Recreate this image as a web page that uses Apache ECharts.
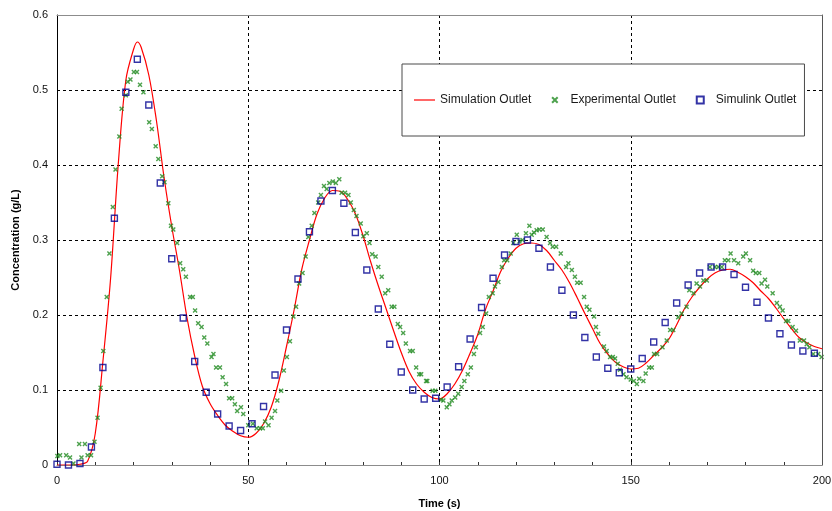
<!DOCTYPE html>
<html>
<head>
<meta charset="utf-8">
<script src="https://cdn.jsdelivr.net/npm/echarts@6/dist/echarts.min.js"></script>
<style>
html,body{margin:0;padding:0;background:#fff;}
#chart{width:832px;height:511px;}
</style>
</head>
<body>
<div id="chart"></div>
<script>
// ---- Data ----
const seriesNames = ['Simulation Outlet', 'Experimental Outlet', 'Simulink Outlet'];

const simTime = [0,2,4,6,8,10,12,14,16,18,20,21,22,24,26,28,30,32,34,36,38,40,42,44,46,48,50,52,54,56,58,60,62,64,66,68,70,72,74,76,78,80,82,84,86,88,90,92,94,96,98,100,102,104,106,108,110,112,114,116,118,120,122,124,126,128,130,132,134,136,138,140,142,144,146,148,150,152,154,156,158,160,162,164,166,168,170,172,174,176,178,180,182,184,186,188,190,192,194,196,198,200];
const simConc = [0,0,0,0.001,0.005,0.042,0.138,0.248,0.400,0.513,0.554,0.564,0.557,0.520,0.459,0.383,0.318,0.260,0.196,0.145,0.105,0.082,0.066,0.053,0.045,0.039,0.037,0.042,0.055,0.077,0.112,0.158,0.207,0.261,0.300,0.335,0.356,0.366,0.365,0.354,0.335,0.306,0.271,0.239,0.209,0.179,0.150,0.125,0.108,0.097,0.090,0.088,0.095,0.108,0.126,0.149,0.174,0.207,0.232,0.258,0.276,0.289,0.295,0.296,0.294,0.286,0.273,0.260,0.243,0.223,0.202,0.182,0.162,0.148,0.137,0.131,0.128,0.129,0.136,0.146,0.156,0.168,0.187,0.208,0.224,0.237,0.248,0.256,0.260,0.261,0.257,0.251,0.243,0.232,0.222,0.209,0.195,0.182,0.170,0.163,0.158,0.155];

const expTime = [0.1,0.8,2.4,3.4,4.3,5.8,6.4,7.3,8.0,8.9,9.8,10.6,11.4,12.1,13.0,13.7,14.6,15.3,16.3,16.9,18.0,18.5,19.2,20.1,20.9,21.7,22.6,24.1,24.8,25.8,26.5,27.5,28.1,29.1,29.8,30.4,31.4,
32.2,33.0,33.7,34.8,35.5,36.1,36.9,37.8,38.5,39.3,40.4,40.9,41.6,42.6,43.3,44.2,45.0,45.8,46.5,47.1,48.1,48.7,50.0,51.2,52.2,53.1,53.8,54.4,55.3,56.1,57.0,57.6,58.6,59.3,60.1,60.9,61.8,62.5,63.3,64.2,65.0,65.7,66.6,67.3,68.3,69.0,69.8,70.5,71.2,
72.1,72.9,73.8,74.4,75.3,76.2,76.8,77.6,78.3,79.4,80.1,81.0,81.7,82.4,83.3,84.0,84.9,85.8,86.6,87.5,88.2,89.1,89.7,90.5,91.2,92.3,93.0,93.9,94.7,95.2,96.5,96.8,98.2,98.9,100.4,101.0,101.9,102.6,103.2,104.1,104.9,105.8,106.5,107.4,108.2,109.0,109.5,110.6,111.3,112.2,112.9,
113.9,114.5,115.4,116.3,116.9,117.7,118.6,119.3,120.2,120.9,121.7,122.6,123.5,124.1,124.7,125.4,126.1,127.0,128.0,128.9,129.6,130.5,131.7,133.1,133.7,134.6,135.4,136.0,136.9,137.8,138.5,139.2,140.4,140.9,141.5,143.0,143.7,144.6,145.3,145.9,146.6,147.2,148.1,148.9,150.0,150.8,151.6,152.2,153.3,153.9,154.8,155.5,156.1,156.9,
158.3,159.4,160.3,161.1,162.4,163.3,164.6,165.3,166.4,167.2,168.1,169.0,169.9,170.7,172.0,172.9,173.8,174.6,175.5,176.1,177.0,178.1,179.4,180.1,181.2,182.0,182.7,183.6,184.2,185.1,185.7,187.1,188.2,189.0,189.7,190.6,191.2,192.3,193.2,194.2,195.3,196.0,196.7,197.7,199.0,199.9];
const expConc = [0.012,0.013,0.013,0.010,0.002,0.028,0.010,0.028,0.013,0.013,0.031,0.063,0.103,0.152,0.224,0.282,0.344,0.394,0.438,0.475,0.493,0.511,0.514,0.524,0.524,0.507,0.497,0.457,0.448,0.425,0.408,0.385,0.377,0.349,0.319,0.314,0.296,
0.269,0.261,0.251,0.224,0.224,0.206,0.189,0.184,0.170,0.162,0.144,0.148,0.130,0.130,0.117,0.108,0.089,0.089,0.081,0.072,0.077,0.068,0.053,0.055,0.049,0.049,0.049,0.058,0.053,0.063,0.072,0.086,0.099,0.126,0.144,0.165,0.198,0.211,0.242,0.256,0.278,0.304,0.319,0.336,0.350,0.360,0.372,0.368,0.376,
0.378,0.376,0.381,0.363,0.363,0.360,0.350,0.340,0.332,0.322,0.305,0.309,0.296,0.281,0.278,0.264,0.251,0.229,0.233,0.211,0.211,0.188,0.184,0.176,0.162,0.152,0.152,0.130,0.121,0.121,0.112,0.112,0.099,0.099,0.087,0.086,0.077,0.081,0.086,0.090,0.095,0.104,0.112,0.121,0.130,0.148,0.157,0.176,0.184,0.202,0.224,
0.229,0.238,0.244,0.264,0.273,0.273,0.282,0.296,0.307,0.298,0.300,0.309,0.319,0.307,0.310,0.313,0.314,0.314,0.304,0.296,0.291,0.291,0.282,0.264,0.269,0.260,0.251,0.243,0.243,0.224,0.211,0.207,0.198,0.184,0.175,0.158,0.152,0.144,0.144,0.142,0.135,0.127,0.121,0.117,0.114,0.112,0.108,0.115,0.112,0.122,0.130,0.130,0.148,0.148,
0.157,0.166,0.180,0.180,0.197,0.202,0.211,0.233,0.229,0.242,0.238,0.246,0.246,0.264,0.264,0.264,0.264,0.273,0.273,0.282,0.273,0.269,0.278,0.282,0.273,0.259,0.256,0.256,0.242,0.247,0.238,0.229,0.216,0.211,0.206,0.192,0.192,0.184,0.179,0.166,0.166,0.161,0.157,0.148,0.148,0.144];

const slkTime = [0,3,6,9,12,15,18,21,24,27,30,33,36,39,42,45,48,51,54,57,60,63,66,69,72,75,78,81,84,87,90,93,96,99,102,105,108,111,114,117,120,123,126,129,132,135,138,141,144,147,150,153,156,159,162,165,168,171,174,177,180,183,186,189,192,195,198];
const slkConc = [0.001,0,0.002,0.024,0.130,0.329,0.497,0.541,0.480,0.376,0.275,0.196,0.138,0.097,0.068,0.052,0.046,0.055,0.078,0.120,0.180,0.248,0.311,0.352,0.366,0.349,0.310,0.260,0.208,0.161,0.124,0.100,0.088,0.089,0.104,0.131,0.168,0.210,0.249,0.280,0.298,0.300,0.289,0.264,0.233,0.200,0.170,0.144,0.129,0.123,0.128,0.142,0.164,0.190,0.216,0.240,0.256,0.264,0.264,0.254,0.237,0.217,0.196,0.175,0.160,0.152,0.149];

const xTicks = {min: 0, max: 200, interval: 50};
const yTicks = {min: 0, max: 0.6, interval: 0.1};

// ---- Chart ----
const zip = (a, b) => a.map((t, i) => [t, b[i]]);
const FONT = "'Liberation Sans', Arial, sans-serif";
const chart = echarts.init(document.getElementById('chart'), null, {renderer: 'canvas'});

const option = {
  backgroundColor: '#ffffff',
  animation: false,
  textStyle: {fontFamily: FONT},
  grid: {left: 57, right: 10, top: 15, bottom: 46, containLabel: false, outerBoundsMode: 'none'},
  legend: {
    left: 402, top: 64,
    orient: 'horizontal',
    backgroundColor: '#ffffff',
    borderColor: '#4a4a4a', borderWidth: 1,
    padding: [30, 8, 30, 12],
    itemWidth: 21, itemHeight: 7, itemGap: 20,
    selectedMode: false,
    textStyle: {fontFamily: FONT, fontSize: 12, color: '#1a1a1a'},
    data: [
      {name: seriesNames[0], icon: 'path://M0,0L21,0L21,1.2L0,1.2Z', itemStyle: {color: '#ff0000'}},
      {name: seriesNames[1]},
      {name: seriesNames[2]}
    ]
  },
  xAxis: [{
    type: 'value', min: xTicks.min, max: xTicks.max, interval: xTicks.interval,
    name: 'Time (s)', nameLocation: 'middle', nameGap: 33,
    nameTextStyle: {fontFamily: FONT, fontSize: 11, fontWeight: 'bold', color: '#000'},
    axisLine: {show: true, onZero: false, lineStyle: {color: '#8c8c8c', width: 1}},
    axisTick: {show: true, inside: true, length: 3, lineStyle: {color: '#333'}},
    minorTick: {show: true, splitNumber: 5, length: 3, lineStyle: {color: '#333'}},
    axisLabel: {fontFamily: FONT, fontSize: 11, color: '#111', margin: 10},
    splitLine: {show: true, showMinLine: false, showMaxLine: false, lineStyle: {color: '#000', type: [3, 3], width: 1}}
  }, {
    type: 'value', position: 'top', min: xTicks.min, max: xTicks.max, z: 5,
    axisLine: {show: true, onZero: false, lineStyle: {color: '#8c8c8c', width: 1}},
    axisTick: {show: false}, axisLabel: {show: false}, splitLine: {show: false}
  }],
  yAxis: [{
    type: 'value', min: yTicks.min, max: yTicks.max, interval: yTicks.interval,
    name: 'Concentration (g/L)', nameLocation: 'middle', nameGap: 36,
    nameTextStyle: {fontFamily: FONT, fontSize: 11, fontWeight: 'bold', color: '#000'},
    axisLine: {show: true, onZero: false, lineStyle: {color: '#000', width: 1}},
    axisTick: {show: false},
    axisLabel: {fontFamily: FONT, fontSize: 11, color: '#111', margin: 9},
    splitLine: {show: true, showMinLine: false, showMaxLine: false, lineStyle: {color: '#000', type: [3, 3], width: 1}}
  }, {
    type: 'value', position: 'right', min: yTicks.min, max: yTicks.max, z: 5,
    axisLine: {show: true, onZero: false, lineStyle: {color: '#555', width: 1}},
    axisTick: {show: false}, axisLabel: {show: false}, splitLine: {show: false}
  }],
  series: [{
    name: seriesNames[0], type: 'line', data: zip(simTime, simConc),
    symbol: 'none', symbolKeepAspect: true, smooth: 0.35, z: 2,
    lineStyle: {color: '#ff0000', width: 1.2},
    itemStyle: {color: '#ff0000'}
  }, {
    name: seriesNames[1], type: 'scatter', data: zip(expTime, expConc),
    symbol: 'path://M0,2L2,0L5,3L8,0L10,2L7,5L10,8L8,10L5,7L2,10L0,8L3,5Z',
    symbolKeepAspect: true, symbolSize: 5, z: 3,
    itemStyle: {color: '#228b22'}
  }, {
    name: seriesNames[2], type: 'scatter', data: zip(slkTime, slkConc),
    symbol: 'path://M0,0L10,0L10,10L0,10Z',
    symbolKeepAspect: true, symbolSize: 6, z: 4,
    itemStyle: {color: 'rgba(255,255,255,0)', borderColor: '#000090', borderWidth: 1.4}
  }]
};
chart.setOption(option);
</script>
</body>
</html>
